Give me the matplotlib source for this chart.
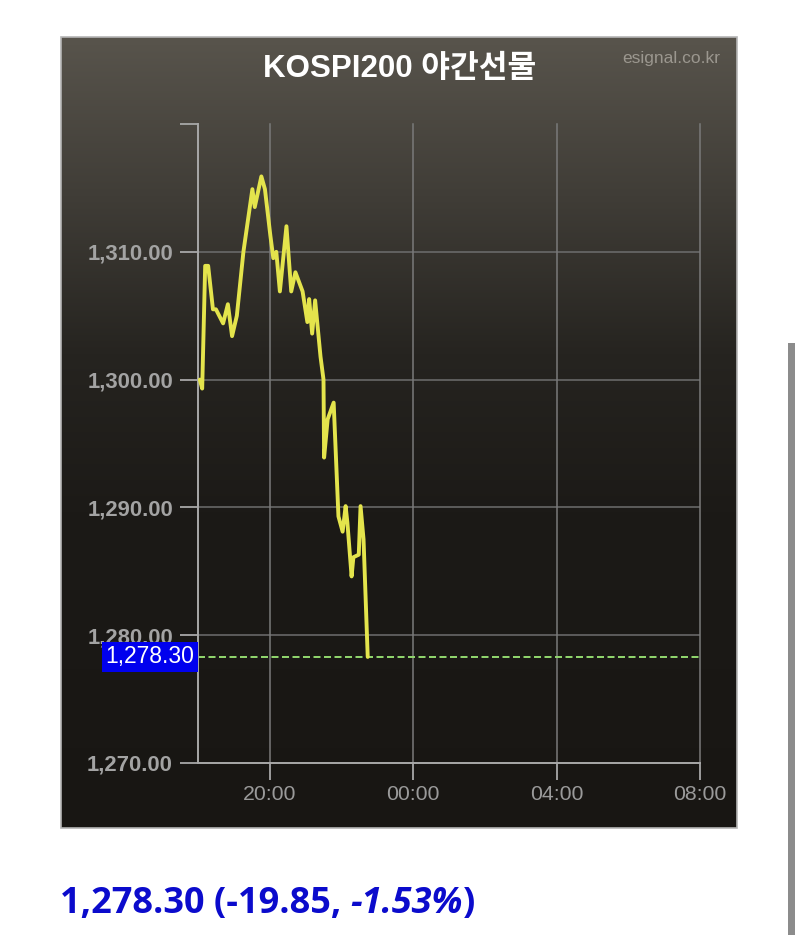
import matplotlib
matplotlib.use('Agg')
import matplotlib.pyplot as plt
import matplotlib.transforms as mtrans
import numpy as np
from matplotlib.patches import Rectangle
from matplotlib.offsetbox import TextArea, HPacker, AnchoredOffsetbox

# ---------------- data ----------------
times = ['18:03', '18:07', '18:12', '18:17', '18:25', '18:30', '18:42', '18:50',
         '18:57', '19:05', '19:16', '19:31', '19:35', '19:46', '19:52', '20:01',
         '20:06', '20:11', '20:17', '20:28', '20:36', '20:43', '20:55', '21:03',
         '21:06', '21:11', '21:16', '21:25', '21:30', '21:31', '21:37', '21:47',
         '21:55', '22:02', '22:07', '22:10', '22:17', '22:20', '22:29', '22:32',
         '22:37', '22:44']
prices = [1300.0, 1299.3, 1308.9, 1308.9, 1305.5, 1305.5, 1304.4, 1305.9,
          1303.4, 1305.0, 1310.0, 1314.9, 1313.5, 1315.9, 1314.9, 1311.3,
          1309.5, 1310.0, 1306.9, 1312.0, 1306.9, 1308.4, 1306.9, 1304.5,
          1306.3, 1303.6, 1306.2, 1301.8, 1300.0, 1293.9, 1296.9, 1298.2,
          1289.3, 1288.1, 1290.1, 1288.8, 1284.6, 1286.1, 1286.3, 1290.1,
          1287.5, 1278.3]
last_price = 1278.30
change = -19.85
change_pct = -1.53
y_ticks = [1270, 1280, 1290, 1300, 1310, 1320]
y_tick_labels = ['1,270.00', '1,280.00', '1,290.00', '1,300.00', '1,310.00', '']
x_range = ['18:00', '08:00']
x_ticks = ['20:00', '00:00', '04:00', '08:00']
title = 'KOSPI200 야간선물'
source = 'esignal.co.kr'


def to_hours(t):
    h, m = map(int, t.split(':'))
    v = h + m / 60.0
    return v + 24 if h < 12 else v


xs = [to_hours(t) for t in times]
xt = [to_hours(t) for t in x_ticks]

W, H = 800, 935
fig = plt.figure(figsize=(W / 100, H / 100), dpi=100)
fig.patch.set_facecolor('white')

# ---------------- panel background (gradient) ----------------
px0, py0, pw, ph = 61, 37, 676, 791
panel = fig.add_axes([px0 / W, 1 - (py0 + ph) / H, pw / W, ph / H])
stops_t = [0.0, 0.2, 0.4, 0.6, 1.0]
stops_c = np.array([[88, 84, 76], [64, 61, 55], [38, 36, 32], [28, 26, 23], [24, 22, 19]]) / 255.0
t = np.linspace(0, 1, 400)
grad = np.stack([np.interp(t, stops_t, stops_c[:, i]) for i in range(3)], axis=-1)
panel.imshow(grad[:, None, :], aspect='auto', extent=[0, 1, 0, 1], origin='upper')
panel.set_axis_off()
fig.add_artist(Rectangle((px0 / W, 1 - (py0 + ph) / H), pw / W, ph / H,
                         transform=fig.transFigure, fill=False, ec='#b5b5b5', lw=1.2))

# ---------------- main axes ----------------
ax = fig.add_axes([198 / W, 1 - 763 / H, 502 / W, 639 / H])
ax.set_facecolor('none')
ax.set_xlim(to_hours(x_range[0]), to_hours(x_range[1]))
ax.set_ylim(y_ticks[0], y_ticks[-1])

for s in ['top', 'right']:
    ax.spines[s].set_visible(False)
for s in ['left', 'bottom']:
    ax.spines[s].set_color('#a8a8a8')
    ax.spines[s].set_linewidth(1.4)

for yv in y_ticks[1:-1]:
    ax.axhline(yv, color='#6e6e6e', lw=1.1, zorder=1)
for xv in xt:
    ax.axvline(xv, color='#7a7a7a', lw=1.1, zorder=1, clip_on=False)

ax.set_yticks(y_ticks)
ax.set_yticklabels(y_tick_labels)
ax.set_xticks(xt)
ax.set_xticklabels(x_ticks)
ax.tick_params(axis='y', length=13, width=1.3, color='#a8a8a8', pad=5,
               labelsize=15.8, labelcolor='#a3a3a3')
ax.tick_params(axis='x', length=12, width=1.3, color='#a8a8a8', pad=4,
               labelsize=15.3, labelcolor='#9a9a9a')
for lbl in ax.get_yticklabels():
    lbl.set_fontweight('bold')
    lbl.set_family('Liberation Sans')
for lbl in ax.get_xticklabels():
    lbl.set_family('Liberation Sans')

ax.plot(xs, prices, color='#e4e44c', lw=2.8, solid_joinstyle='round',
        solid_capstyle='round', zorder=3)
ax.axhline(last_price, color='#93d96f', lw=1.4, ls=(0, (3.6, 1.8)), zorder=2)

trans = mtrans.blended_transform_factory(ax.transAxes, ax.transData)
ax.annotate(f'{last_price:,.2f}', xy=(0, last_price), xycoords=trans,
            xytext=(-2.6, 0), textcoords='offset points',
            ha='right', va='center', color='white', fontsize=16.5,
            family='Liberation Sans', annotation_clip=False, zorder=5,
            bbox=dict(boxstyle='square,pad=0.16', fc='#0000ee', ec='none'))

# ---------------- titles ----------------
fig.text(0.5, 1 - 69 / H, title, ha='center', va='center', fontsize=22.5,
         fontweight='bold', color='white',
         family=['Liberation Sans', 'Noto Sans CJK KR'])
fig.text(720 / W, 1 - 58 / H, source, ha='right', va='center', fontsize=12.5,
         color='#9b978f', family='Liberation Sans')

# ---------------- bottom summary text ----------------
tp = dict(color='#0b0bcc', fontsize=26, fontweight='bold', family='Open Sans')
tpi = dict(tp, fontstyle='italic')
parts = [
    TextArea(f'{last_price:,.2f} ({change:.2f}, ', textprops=tp),
    TextArea(f'{change_pct:.2f}%', textprops=tpi),
    TextArea(')', textprops=tp),
]
box = HPacker(children=parts, align='baseline', pad=0, sep=0)
anch = AnchoredOffsetbox(loc='lower left', child=box, pad=0, borderpad=0,
                         frameon=False, bbox_to_anchor=(60 / W, 1 - 922 / H),
                         bbox_transform=fig.transFigure)
fig.add_artist(anch)

# ---------------- scrollbar ----------------
fig.add_artist(Rectangle((788 / W, 0), 7 / W, (H - 343) / H,
                         transform=fig.transFigure, color='#8c8c8c', lw=0))

fig.savefig('out.png', dpi=100)
